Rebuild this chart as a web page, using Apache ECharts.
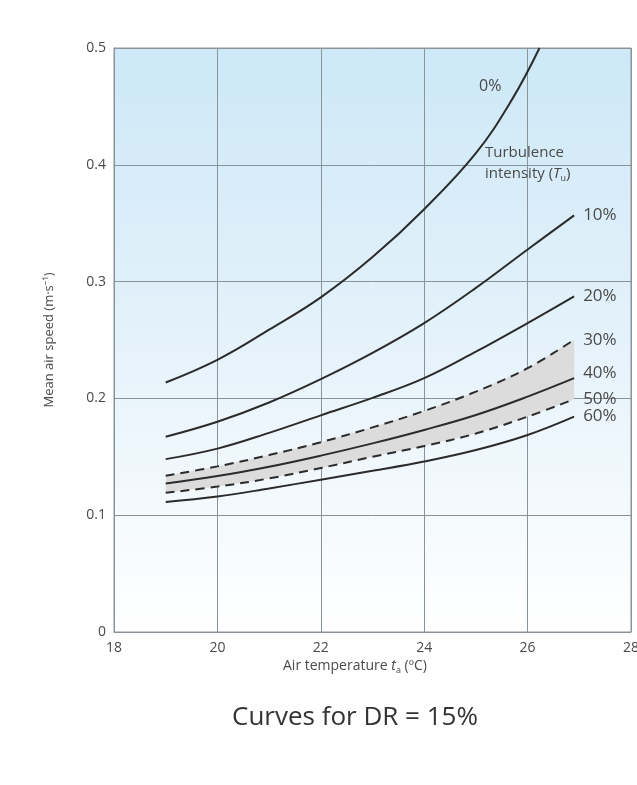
<!DOCTYPE html>
<html>
<head>
<meta charset="utf-8">
<script src="https://cdn.jsdelivr.net/npm/echarts@6/dist/echarts.min.js"></script>
<style>
html,body{margin:0;padding:0;background:#fff;overflow:hidden;}
#c{width:637px;height:785px;}
</style>
</head>
<body>
<div id="c"></div>
<script>
// x values (air temperature, °C)
const temps = [19, 20, 21, 22, 23, 24, 25, 26, 26.9];
const temps0 = [19, 20, 21, 22, 23, 24, 25, 25.7, 26.23];
// mean air speed (m/s) for each turbulence intensity
const tu0  = [0.2136, 0.233, 0.2588, 0.2865, 0.321, 0.362, 0.41, 0.456, 0.5];
const tu10 = [0.1672, 0.1800, 0.1965, 0.2165, 0.239, 0.2645, 0.2946, 0.3275, 0.3567];
const tu20 = [0.148, 0.1570, 0.1705, 0.1855, 0.2004, 0.2173, 0.240, 0.2645, 0.2874];
const tu30 = [0.1337, 0.1418, 0.1515, 0.1625, 0.1752, 0.1893, 0.2058, 0.2259, 0.2502];
const tu40 = [0.1272, 0.1335, 0.1415, 0.1510, 0.1615, 0.173, 0.1858, 0.2015, 0.2173];
const tu50 = [0.1192, 0.1245, 0.1315, 0.1404, 0.150, 0.1592, 0.170, 0.1844, 0.1993];
const tu60 = [0.1114, 0.1160, 0.1229, 0.1304, 0.1380, 0.1460, 0.1558, 0.1687, 0.1844];
const xTicks = [18, 20, 22, 24, 26, 28];
const yTicks = [0, 0.1, 0.2, 0.3, 0.4, 0.5];

const FONT = '"Open Sans", "Noto Sans", sans-serif';
const LINE = '#2b2b2b';
const LAB = '#4a4a4a';

function pairs(xs, ys){ return xs.map((x,i)=>[x, ys[i]]); }

function curve(name, xs, ys, dashed, labelText, labelOffset){
  return {
    name: name, type: 'line', data: pairs(xs, ys), smooth: 0.4,
    showSymbol: false, symbol: 'none', z: 5,
    lineStyle: { color: LINE, width: 2, type: dashed ? [9, 6] : 'solid' },
    endLabel: labelText ? {
      show: true, formatter: labelText, distance: 9,
      color: LAB, fontSize: 17, fontFamily: FONT,
      offset: labelOffset || [0, 0]
    } : { show: false }
  };
}

const chart = echarts.init(document.getElementById('c'), null, {renderer: 'canvas'});
const axisColor = '#89939a';
chart.setOption({
  animation: false,
  grid: {
    left: 114, right: 6, top: 48, bottom: 153,
    outerBoundsMode: 'none', containLabel: false,
    show: true,
    borderColor: axisColor, borderWidth: 1,
    backgroundColor: new echarts.graphic.LinearGradient(0, 0, 0, 1, [
      {offset: 0, color: '#cde8f7'},
      {offset: 0.45, color: '#e2f1fa'},
      {offset: 1, color: '#ffffff'}
    ])
  },
  xAxis: {
    type: 'value', min: xTicks[0], max: xTicks[xTicks.length-1], interval: 2,
    axisLine: { show: true, lineStyle: { color: axisColor, width: 1 } },
    axisTick: { show: false },
    splitLine: { show: true, lineStyle: { color: axisColor, width: 1 } },
    axisLabel: { color: LAB, fontSize: 14, fontFamily: FONT, margin: 9,
      formatter: v => xTicks.includes(v) ? String(v) : '' }
  },
  yAxis: {
    type: 'value', min: yTicks[0], max: yTicks[yTicks.length-1], interval: 0.1,
    axisLine: { show: true, lineStyle: { color: axisColor, width: 1 } },
    axisTick: { show: false },
    splitLine: { show: true, lineStyle: { color: axisColor, width: 1 } },
    axisLabel: { color: LAB, fontSize: 14, fontFamily: FONT, margin: 8,
      formatter: v => v === 0 ? '0' : v.toFixed(1) },
    name: 'Mean air speed (m·s⁻¹)', nameLocation: 'middle', nameGap: 58,
    nameTextStyle: { color: LAB, fontSize: 13, fontFamily: FONT }
  },
  series: [
    // shaded band between the 30% and 50% curves
    { name: 'band', type: 'custom', z: 2, silent: true,
      data: [[temps[0], tu30[0]]],
      renderItem: function (params, api) {
        const upper = temps.map((x, i) => api.coord([x, tu30[i]]));
        const lower = temps.map((x, i) => api.coord([x, tu50[i]])).reverse();
        return { type: 'polygon', shape: { points: upper.concat(lower) },
                 style: { fill: '#dcdcdc', stroke: null } };
      }
    },
    curve('0%', temps0, tu0, false, null),
    curve('10%', temps, tu10, false, '10%'),
    curve('20%', temps, tu20, false, '20%'),
    curve('30%', temps, tu30, true, '30%'),
    curve('40%', temps, tu40, false, '40%', [0, -5]),
    curve('50%', temps, tu50, true, '50%'),
    curve('60%', temps, tu60, false, '60%')
  ],
  graphic: [
    { type: 'text', left: 479, top: 78, z: 10,
      style: { text: '0%', fill: LAB, font: '16px ' + FONT } },
    { type: 'text', left: 485, top: 145, z: 10,
      style: { text: 'Turbulence', fill: LAB, font: '15px ' + FONT } },
    { type: 'text', left: 485, top: 166, z: 10,
      style: { text: 'intensity ({i|T}{s|u})', fill: LAB, font: '15px ' + FONT,
        rich: { i: { fontStyle: 'italic', fontSize: 15, fontFamily: FONT, fill: LAB },
                s: { fontSize: 9, fontFamily: FONT, fill: LAB, padding: [9, 0, 0, 0] } } } },
    { type: 'text', left: 283, top: 659, z: 10,
      style: { text: 'Air temperature {i|t}{s|a} (ºC)', fill: LAB, font: '14px ' + FONT,
        rich: { i: { fontStyle: 'italic', fontSize: 14, fontFamily: FONT, fill: LAB },
                s: { fontSize: 9, fontFamily: FONT, fill: LAB, padding: [8, 0, 0, 0] } } } },
    { type: 'text', left: 232, top: 705, z: 10,
      style: { text: 'Curves for DR = 15%', fill: '#333', font: '26px ' + FONT } }
  ]
});
</script>
</body>
</html>
